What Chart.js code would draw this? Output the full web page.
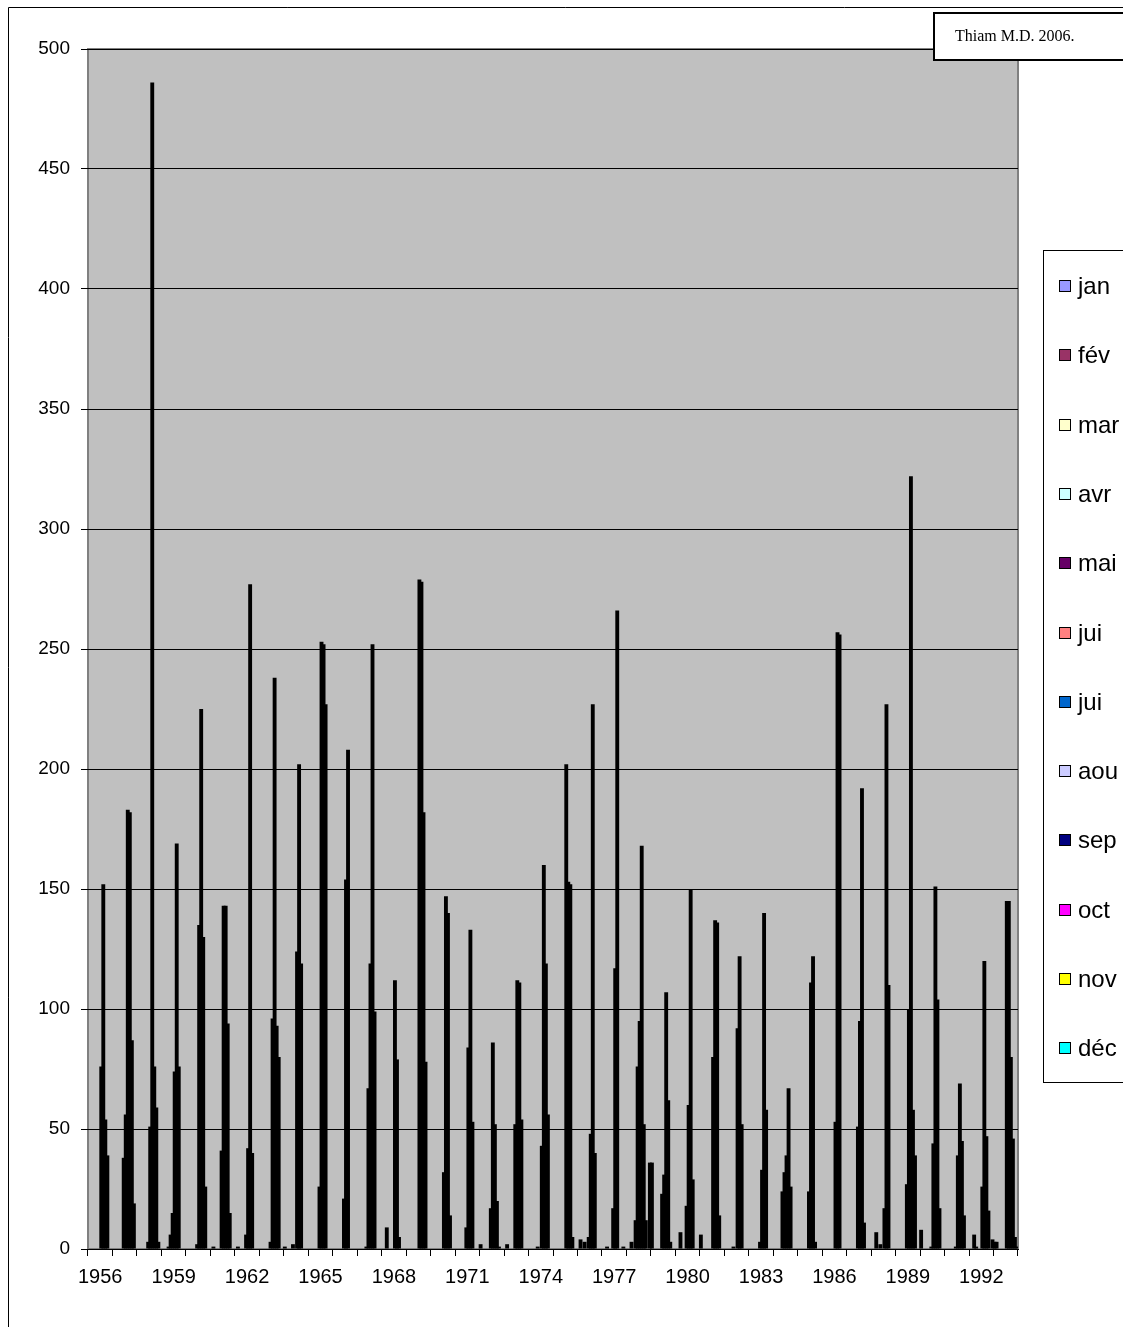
<!DOCTYPE html>
<html><head><meta charset="utf-8">
<script src="https://cdn.jsdelivr.net/npm/chart.js@4.4.1/dist/chart.umd.min.js"></script>
<style>html,body{margin:0;padding:0;background:#fff;overflow:hidden}#wrap{position:absolute;left:0;top:0;width:1123px;height:1327px}</style>
</head><body><div id="wrap"><canvas id="c" width="1123" height="1327"></canvas></div>
<script>
const years = ['1956','1957','1958','1959','1960','1961','1962','1963','1964','1965','1966','1967','1968','1969','1970','1971','1972','1973','1974','1975','1976','1977','1978','1979','1980','1981','1982','1983','1984','1985','1986','1987','1988','1989','1990','1991','1992','1993'];
const monthLabels = ['jan','fév','mar','avr','mai','jui','jui','aou','sep','oct','nov','déc'];
const monthColors = ['#9999FF','#993366','#FFFFCC','#CCFFFF','#660066','#FF8080','#0066CC','#CCCCFF','#000080','#FF00FF','#FFFF00','#00FFFF'];
const yTicks = [0,50,100,150,200,250,300,350,400,450,500];
const noteText = 'Thiam M.D. 2006.';

const jan = [0,0,0,0,0, 0,0,0,1,0, 0,0,0,0,0, 0,2,0,0,0, 0,0,0,36,0, 6,0,0,0,0, 0,0,0,0,8, 0,0,3];
const fev = [0,0,0,0,0, 1,1,0,0,0, 0,0,0,0,0, 0,0,2,0,0, 4,0,0,0,0, 0,0,0,0,0, 0,0,0,0,0, 0,0,3];
const mar = [0,0,0,0,0, 0,0,0,0,0, 0,0,9,0,0, 0,0,0,0,0, 0,1,3,0,7, 0,0,0,0,0, 0,0,7,0,0, 0,6,0];
const avr = [0,0,0,1,0, 0,0,0,0,0, 0,0,0,0,0, 0,0,0,0,0, 3,0,0,0,0, 0,0,0,0,0, 0,0,0,0,0, 0,1,0];
const mai = [0,0,0,6,0, 0,0,0,2,0, 0,1,0,0,0, 0,0,0,1,0, 0,0,12,0,0, 0,1,0,24,0, 0,0,2,0,0, 0,0,0];
const juin = [0,38,3,15,2, 41,6,3,0,26, 21,67,0,0,0, 9,17,52,0,0, 5,17,76,23,18, 0,0,3,32,24, 0,51,0,27,1, 1,0,0];
const juil = [76,56,51,74,135, 143,42,96,124,253, 154,119,112,279,32, 84,86,112,43,202, 48,117,95,31,60, 80,92,33,39,111, 53,95,17,100,44, 39,26,145];
const aou = [152,183,486,169,225, 143,277,238,202,252, 208,252,79,278,147, 133,52,111,160,153, 227,266,168,107,150, 137,122,140,67,122, 257,192,227,322,151, 69,120,145];
const sep = [54,182,76,76,130, 94,40,93,119,227, 0,99,5,182,140, 53,20,54,119,152, 40,0,52,62,29, 136,52,58,26,3, 256,11,110,58,104, 45,47,80];
const oct = [39,87,59,0,26, 15,0,80,0,0, 0,0,0,78,14, 0,1,0,56,5, 0,0,12,3,0, 14,0,0,0,0, 0,0,0,39,17, 14,16,46];
const nov = [0,19,3,0,0, 0,0,0,0,0, 0,0,0,0,0, 0,0,0,0,0, 0,1,0,0,0, 0,0,0,0,0, 0,0,0,0,0, 0,0,5];
const dec = [0,0,0,0,0, 0,0,0,0,0, 0,0,0,0,0, 0,0,0,0,0, 0,0,36,0,0, 0,0,0,0,0, 0,0,0,0,0, 0,4,1];

const monthData = [jan,fev,mar,avr,mai,juin,juil,aou,sep,oct,nov,dec];

const frame = {
  id: 'frame',
  beforeDraw(chart) {
    const {ctx, chartArea: a} = chart;
    ctx.save();
    ctx.fillStyle = '#fff';
    ctx.fillRect(0, 0, chart.width, chart.height);
    ctx.strokeStyle = '#000'; ctx.lineWidth = 1;
    ctx.beginPath(); ctx.moveTo(8.5, chart.height); ctx.lineTo(8.5, 7.5); ctx.lineTo(chart.width, 7.5); ctx.stroke();
    ctx.fillStyle = '#C0C0C0';
    ctx.fillRect(a.left, a.top, a.right - a.left, a.bottom - a.top);
    ctx.strokeStyle = '#808080'; ctx.lineWidth = 2;
    ctx.strokeRect(a.left, a.top, a.right - a.left, a.bottom - a.top);
    ctx.restore();
  },
  afterDraw(chart) {
    const ctx = chart.ctx;
    ctx.save();
    // legend
    ctx.fillStyle = '#fff'; ctx.strokeStyle = '#000'; ctx.lineWidth = 1;
    ctx.fillRect(1043.5, 250.5, 200, 832);
    ctx.strokeRect(1043.5, 250.5, 200, 832);
    ctx.font = '24px "Liberation Sans", Arial, sans-serif';
    ctx.textBaseline = 'middle';
    chart.data.datasets.forEach((ds, i) => {
      const y = Math.round(286 + i * 69.3);
      ctx.fillStyle = monthColors[i];
      ctx.fillRect(1059.5, y - 5.5, 11, 11);
      ctx.strokeRect(1059.5, y - 5.5, 11, 11);
      ctx.fillStyle = '#000';
      ctx.fillText(ds.label, 1078, y + 1);
    });
    // note box
    ctx.fillStyle = '#fff'; ctx.lineWidth = 2;
    ctx.fillRect(934, 13, 220, 47);
    ctx.strokeRect(934, 13, 220, 47);
    ctx.fillStyle = '#000';
    ctx.font = '16px "Liberation Serif", "Times New Roman", serif';
    ctx.fillText(noteText, 955, 37);
    ctx.restore();
  }
};

Chart.defaults.font.family = '"Liberation Sans", Arial, sans-serif';
Chart.defaults.font.size = 19;
Chart.defaults.color = '#000';

new Chart(document.getElementById('c'), {
  type: 'bar',
  data: {
    labels: years,
    datasets: monthData.map((d, i) => ({
      label: monthLabels[i],
      data: d,
      backgroundColor: '#000',
      borderWidth: 0,
      barPercentage: 1.9,
      categoryPercentage: 1
    }))
  },
  options: {
    responsive: false,
    animation: false,
    devicePixelRatio: 1,
    layout: { padding: { left: 0, top: 49, right: 105, bottom: 0 } },
    plugins: { legend: { display: false }, tooltip: { enabled: false } },
    scales: {
      x: {
        grid: { offset: true, drawOnChartArea: false, drawTicks: true, tickLength: 7, color: '#000' },
        border: { display: true, color: '#000', width: 1 },
        ticks: {
          autoSkip: false, maxRotation: 0, minRotation: 0, padding: 9,
          font: { size: 20 },
          callback: (v, i) => (i % 3 === 0 ? years[i] : '')
        },
        afterFit: s => { s.height = 78; }
      },
      y: {
        min: 0, max: 500,
        afterBuildTicks: s => { s.ticks = yTicks.map(v => ({ value: v })); },
        grid: { color: '#000', tickLength: 7, drawTicks: true },
        border: { display: false },
        ticks: { padding: 11, font: { size: 19 } },
        afterFit: s => { s.width = 88; }
      }
    }
  },
  plugins: [frame]
});
</script>
</body></html>
